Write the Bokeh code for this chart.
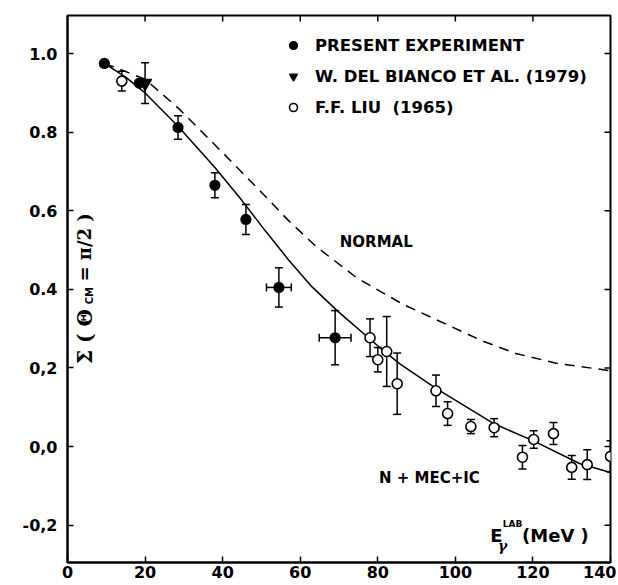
import math
from bokeh.plotting import figure
from bokeh.models import (ColumnDataSource, Whisker, TeeHead, Label, Legend, LegendItem,
                          FixedTicker, Range1d)
from bokeh.embed import file_html
from bokeh.resources import INLINE

# ---------------- data ----------------
present_x = [9.5, 18.5, 28.5, 38.0, 46.0, 54.5, 69.0]
present_y = [0.975, 0.925, 0.812, 0.665, 0.578, 0.405, 0.277]
present_yerr = [0.0, 0.0, 0.030, 0.032, 0.038, 0.050, 0.069]
present_xerr = [0.0, 0.0, 0.0, 0.0, 0.0, 3.2, 4.1]

delbianco_x = [20.0]
delbianco_y = [0.925]
delbianco_yerr = [0.052]

liu_x = [14.0, 78.0, 80.0, 82.3, 85.0, 95.0, 98.0, 104.0, 110.0, 117.3, 120.2, 125.3, 130.0, 134.0, 140.0]
liu_y = [0.930, 0.277, 0.221, 0.242, 0.160, 0.142, 0.084, 0.051, 0.048, -0.027, 0.018, 0.033, -0.053, -0.046, -0.025]
liu_yerr = [0.025, 0.048, 0.031, 0.089, 0.078, 0.040, 0.030, 0.018, 0.023, 0.030, 0.022, 0.028, 0.030, 0.038, 0.040]

full_x = [9.5, 15.0, 20.0, 28.5, 38.0, 45.0, 51.0, 57.0, 63.0, 69.5, 80.5, 85.6, 95.0, 110.0, 120.0, 132.0, 140.0]
full_y = [0.975, 0.940, 0.900, 0.815, 0.710, 0.626, 0.549, 0.475, 0.407, 0.346, 0.252, 0.211, 0.148, 0.058, 0.015, -0.043, -0.066]

normal_x = [9.5, 20.0, 28.7, 40.2, 50.3, 57.0, 64.0, 74.5, 86.5, 106.7, 115.6, 126.0, 140.0]
normal_y = [0.975, 0.935, 0.860, 0.746, 0.644, 0.575, 0.510, 0.430, 0.362, 0.270, 0.237, 0.212, 0.193]

x_ticks = [0, 20, 40, 60, 80, 100, 120, 140]
y_ticks = [-0.2, 0.0, 0.2, 0.4, 0.6, 0.8, 1.0]
y_tick_labels = ["-0,2", "0,0", "0,2", "0.4", "0.6", "0.8", "1.0"]

FONT = "DejaVu Sans"
SERIF = "DejaVu Serif"

# ---------------- figure ----------------
X0, X1 = 0.0, 140.0
Y0, Y1 = -0.295, 1.097
FW, FH = 543, 547
p = figure(frame_width=FW, frame_height=FH, min_border_left=67, min_border_right=6,
           min_border_top=15, min_border_bottom=22,
           x_range=Range1d(X0, X1), y_range=Range1d(Y0, Y1),
           output_backend="svg", toolbar_location=None)
p.xgrid.visible = False
p.ygrid.visible = False
p.outline_line_color = "black"
p.outline_line_width = 2
p.background_fill_color = "white"
p.border_fill_color = "white"

for ax in (p.xaxis[0], p.yaxis[0]):
    ax.axis_line_width = 2
    ax.axis_line_color = "black"
    ax.major_tick_in = 6
    ax.major_tick_out = 0
    ax.minor_tick_in = 0
    ax.minor_tick_out = 0
    ax.major_tick_line_width = 1.5
    ax.major_tick_line_color = "black"
    ax.major_label_text_font = FONT
    ax.major_label_text_font_style = "bold"
    ax.major_label_text_font_size = "16px"
    ax.major_label_text_color = "black"

p.xaxis.ticker = FixedTicker(ticks=x_ticks)
p.yaxis.ticker = FixedTicker(ticks=y_ticks)
p.yaxis.major_label_overrides = {t: l for t, l in zip(y_ticks, y_tick_labels)}
p.xaxis.major_label_standoff = 3
p.yaxis.major_label_standoff = 10

# inward ticks on the top and right frame edges (derived from the tick lists)
TICK_PX = 6
dy = TICK_PX * (Y1 - Y0) / FH
dx = TICK_PX * (X1 - X0) / FW
top_t = [t for t in x_ticks if X0 < t < X1]
p.segment(x0=top_t, y0=[Y1] * len(top_t), x1=top_t, y1=[Y1 - dy] * len(top_t),
          line_color="black", line_width=1.5)
p.segment(x0=[X1] * len(y_ticks), y0=y_ticks, x1=[X1 - dx] * len(y_ticks), y1=y_ticks,
          line_color="black", line_width=1.5)

# ---------------- curves ----------------
p.line(normal_x, normal_y, line_color="black", line_width=1.5, line_dash="10 7")
p.line(full_x, full_y, line_color="black", line_width=1.5)

# ---------------- error bars ----------------
def whisker(src, base, dim):
    return Whisker(base=base, lower="lo", upper="hi", source=src, dimension=dim,
                   line_width=1.5, line_color="black",
                   upper_head=TeeHead(size=8, line_width=1.5, line_color="black"),
                   lower_head=TeeHead(size=8, line_width=1.5, line_color="black"))

def add_yerr(xs, ys, errs):
    sel = [i for i in range(len(xs)) if errs[i] > 0]
    src = ColumnDataSource(dict(
        x=[xs[i] for i in sel],
        lo=[ys[i] - errs[i] for i in sel],
        hi=[ys[i] + errs[i] for i in sel]))
    p.add_layout(whisker(src, "x", "height"))

def add_xerr(xs, ys, errs):
    sel = [i for i in range(len(xs)) if errs[i] > 0]
    src = ColumnDataSource(dict(
        y=[ys[i] for i in sel],
        lo=[xs[i] - errs[i] for i in sel],
        hi=[xs[i] + errs[i] for i in sel]))
    p.add_layout(whisker(src, "y", "width"))

add_yerr(present_x, present_y, present_yerr)
add_xerr(present_x, present_y, present_xerr)
add_yerr(delbianco_x, delbianco_y, delbianco_yerr)
add_yerr(liu_x, liu_y, liu_yerr)

# ---------------- markers ----------------
r_liu = p.scatter(liu_x, liu_y, marker="circle", size=10, fill_color="white",
                  line_color="black", line_width=1.6)
r_present = p.scatter(present_x, present_y, marker="circle", size=10, fill_color="black",
                      line_color="black", line_width=1.2)
r_db = p.scatter(delbianco_x, delbianco_y, marker="inverted_triangle", size=13,
                 fill_color="black", line_color="black", line_width=1.2)

legend = Legend(items=[
    LegendItem(label="PRESENT EXPERIMENT", renderers=[r_present]),
    LegendItem(label="W. DEL BIANCO ET AL. (1979)", renderers=[r_db]),
    LegendItem(label="F.F. LIU  (1965)", renderers=[r_liu]),
], location=(216, 445), orientation="vertical")
legend.padding = 0
legend.margin = 0
legend.spacing = 11
legend.glyph_width = 20
legend.glyph_height = 20
legend.label_height = 20
legend.label_standoff = 12
legend.border_line_alpha = 0
legend.background_fill_alpha = 0
legend.label_text_font = FONT
legend.label_text_font_style = "bold"
legend.label_text_font_size = "16.5px"
legend.label_text_color = "black"
legend.label_text_baseline = "middle"
p.add_layout(legend)

# ---------------- text annotations ----------------
def lab(x, y, text, size, font=FONT, style="bold", angle=0.0, align="left", baseline="middle"):
    p.add_layout(Label(x=x, y=y, text=text, text_font=font, text_font_style=style,
                       text_font_size=size, angle=angle, text_align=align,
                       text_baseline=baseline, text_color="black"))

lab(70.2, 0.52, "NORMAL", "15px")
lab(80.3, -0.079, "N + MEC+IC", "15px")

# x-axis title inside the frame
lab(109.0, -0.226, "E", "18px")
lab(111.0, -0.254, "γ", "14px", font=SERIF, style="bold italic")
lab(112.2, -0.198, "LAB", "9px")
lab(117.2, -0.226, "(MeV )", "18px")

# y-axis title inside the frame (rotated)
ang = math.pi / 2
lab(4.5, 0.21, "Σ ( Θ", "20px", font=SERIF, angle=ang)
lab(5.8, 0.362, "CM", "10px", angle=ang)
lab(4.5, 0.42, "= π/2 )", "18px", font=SERIF, angle=ang)

open("out.html", "w").write(file_html(p, INLINE))
